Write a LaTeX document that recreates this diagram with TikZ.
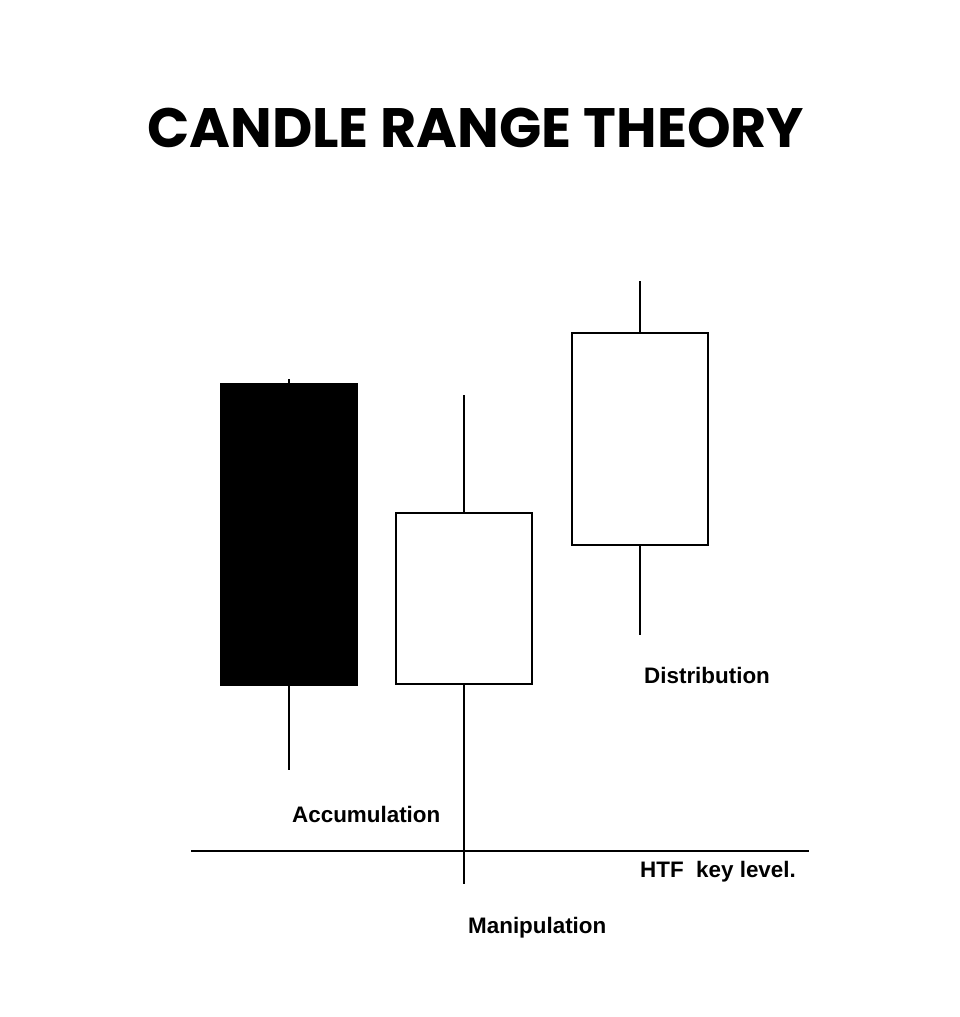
\documentclass[tikz,border=0pt]{standalone}
\usepackage{fontspec}
\setmainfont{Liberation Sans}
\newfontfamily\titlefont{Poppins}
\begin{document}
\begin{tikzpicture}[x=1pt,y=-1pt,
  body/.style={draw=black,line width=2pt,inner sep=0pt,minimum width=136pt},
  wick/.style={line width=2pt},
  lbl/.style={inner sep=0pt,anchor=base west,font=\fontsize{22.4}{26}\selectfont\bfseries}]
\useasboundingbox[fill=white] (0,0) rectangle (960,1017);
\node[inner sep=0pt,anchor=base west,font=\titlefont\fontsize{55.5}{64}\selectfont\bfseries] (title) at (147,147) {CANDLE RANGE THEORY};
% candle 1
\node[body,fill=black,minimum height=301pt] (c1) at (288.5,534) {};
\coordinate (c1t) at (288.5,379);
\coordinate (c1b) at (288.5,770);
\draw[wick] (c1.north) -- (c1t);
\draw[wick] (c1.south) -- (c1b);
% candle 2
\node[body,fill=white,minimum height=171pt] (c2) at (464,598.5) {};
\coordinate (c2t) at (464,395);
\coordinate (c2b) at (464,884);
\draw[wick] (c2.north) -- (c2t);
\draw[wick] (c2.south) -- (c2b);
% candle 3
\node[body,fill=white,minimum height=212pt] (c3) at (640,439) {};
\coordinate (c3t) at (640,281);
\coordinate (c3b) at (640,635);
\draw[wick] (c3.north) -- (c3t);
\draw[wick] (c3.south) -- (c3b);
% key level
\coordinate (hl) at (191,851);
\coordinate (hr) at (809,851);
\draw[wick] (hl) -- (hr);
% labels
\node[lbl] (acc) at (292,822) {Accumulation};
\node[lbl] (dis) at (644,683) {Distribution};
\node[lbl] (htf) at (640,877) {HTF\ \ key level.};
\node[lbl] (man) at (468,933) {Manipulation};
\end{tikzpicture}
\end{document}
